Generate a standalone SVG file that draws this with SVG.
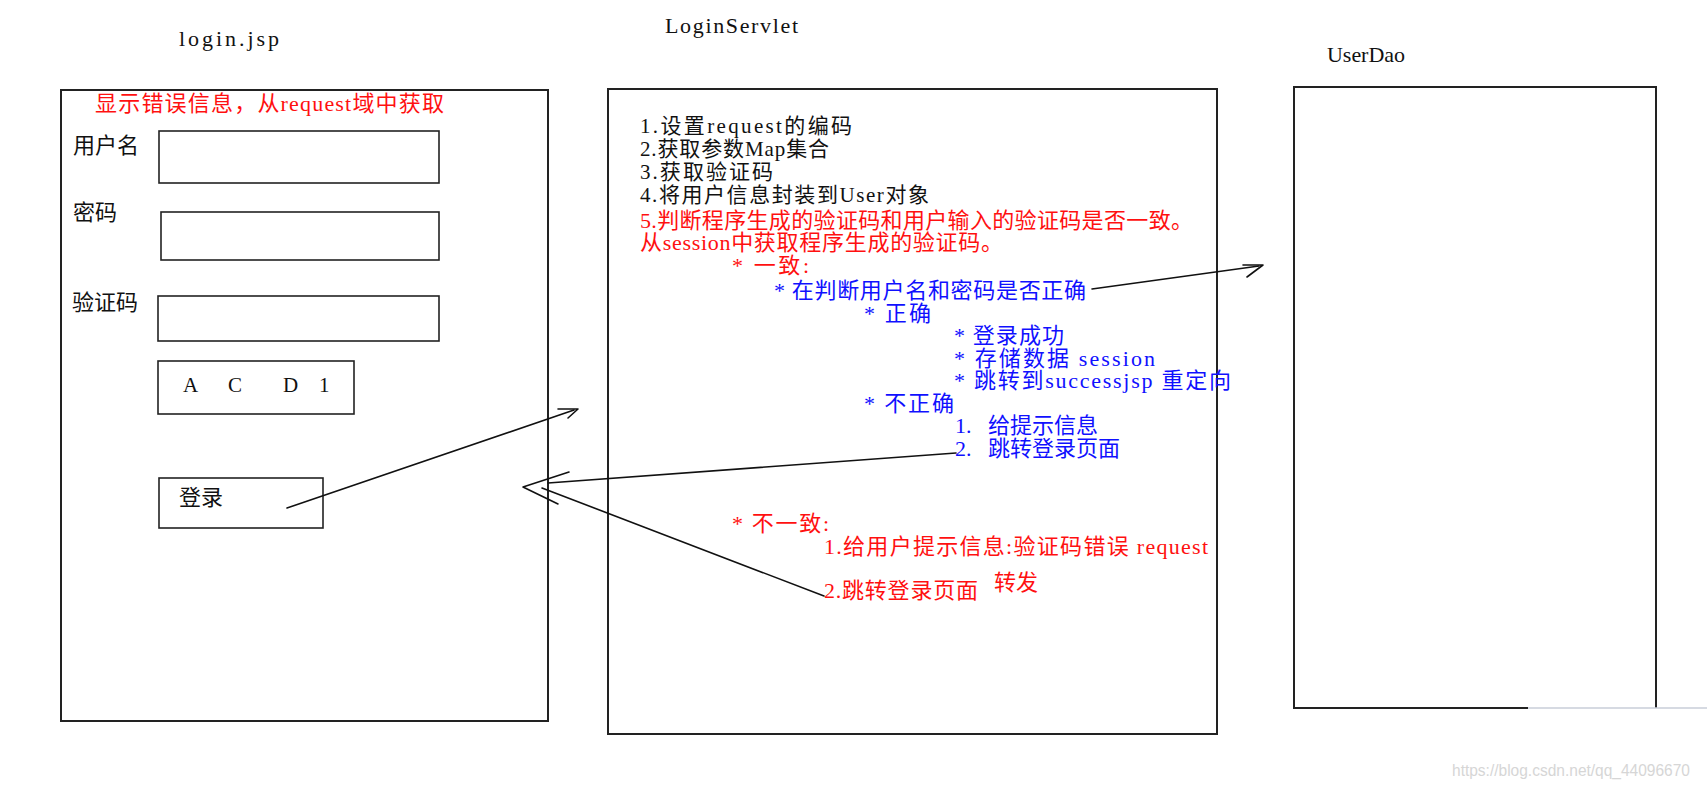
<svg xmlns="http://www.w3.org/2000/svg" width="1707" height="791" viewBox="0 0 1707 791">
<style>
  .box { fill: none; stroke: #222; stroke-width: 2; }
  .field { fill: none; stroke: #222; stroke-width: 1.6; }
  .t { font-family: "Liberation Serif", "Noto Sans CJK SC", serif; font-size: 22px; fill: #111; }
  .s { font-size: 21px; }
  .cjk { font-family: "Noto Sans CJK SC", sans-serif; font-size: 22px; fill: #111; }
  .red { fill: #ff1010; }
  .blue { fill: #1010ff; }
  .ln { fill: none; stroke: #111; stroke-width: 1.6; stroke-linecap: round; stroke-linejoin: round; }
  .wm { font-family: "Liberation Sans", "Noto Sans", sans-serif; font-size: 16px; fill: #d6d6d6; }
</style>
<rect width="1707" height="791" fill="#ffffff"/>

<g id="login-jsp">
  <text class="t" x="179" y="46" textLength="100" lengthAdjust="spacing">login.jsp</text>
  <rect class="box" x="61" y="90" width="487" height="631"/>
  <text class="t red" x="95" y="111" textLength="349" lengthAdjust="spacing">显示错误信息，从request域中获取</text>
  <text class="cjk" x="73" y="153">用户名</text>
  <rect class="field" x="159" y="131" width="280" height="52"/>
  <text class="cjk" x="73" y="220">密码</text>
  <rect class="field" x="161" y="212" width="278" height="48"/>
  <text class="cjk" x="72" y="310">验证码</text>
  <rect class="field" x="158" y="296" width="281" height="45"/>
  <rect class="field" x="158" y="361" width="196" height="53"/>
  <text class="t" x="183 228 283 319" y="392" style="font-size:21px">ACD1</text>
  <rect class="field" x="159" y="478" width="164" height="50"/>
  <text class="cjk" x="179" y="505">登录</text>
</g>

<g id="login-servlet">
  <text class="t" x="665" y="33" textLength="133" lengthAdjust="spacing">LoginServlet</text>
  <rect class="box" x="608" y="89" width="609" height="645"/>
  <text class="t s" x="640" y="133" textLength="212" lengthAdjust="spacing">1.设置request的编码</text>
  <text class="t s" x="640" y="156" textLength="189" lengthAdjust="spacing">2.获取参数Map集合</text>
  <text class="t s" x="640" y="179" textLength="133" lengthAdjust="spacing">3.获取验证码</text>
  <text class="t s" x="640" y="202" textLength="289" lengthAdjust="spacing">4.将用户信息封装到User对象</text>
  <text class="t red" x="640" y="228" textLength="553" lengthAdjust="spacing">5.判断程序生成的验证码和用户输入的验证码是否一致。</text>
  <text class="t red" x="640" y="250" textLength="363" lengthAdjust="spacing">从session中获取程序生成的验证码。</text>
  <text class="t red" x="732" y="273" textLength="77" lengthAdjust="spacing">* 一致:</text>
  <text class="t blue" x="774" y="298" textLength="312" lengthAdjust="spacing">* 在判断用户名和密码是否正确</text>
  <text class="t blue" x="864" y="321" textLength="67" lengthAdjust="spacing">* 正确</text>
  <text class="t blue" x="954" y="343" textLength="110" lengthAdjust="spacing">* 登录成功</text>
  <text class="t blue" x="954" y="366" textLength="201" lengthAdjust="spacing">* 存储数据 session</text>
  <text class="t blue" x="954" y="388" textLength="277" lengthAdjust="spacing">* 跳转到successjsp 重定向</text>
  <text class="t blue" x="864" y="411" textLength="90" lengthAdjust="spacing">* 不正确</text>
  <text class="t blue" x="955" y="433">1. <tspan x="988">给提示信息</tspan></text>
  <text class="t blue" x="955" y="456">2. <tspan x="988">跳转登录页面</tspan></text>
  <text class="t red" x="732" y="531" textLength="97" lengthAdjust="spacing">* 不一致:</text>
  <text class="t red" x="824" y="554" textLength="384" lengthAdjust="spacing">1.给用户提示信息:验证码错误 request</text>
  <text class="t red" x="824" y="598" textLength="154" lengthAdjust="spacing">2.跳转登录页面</text>
  <text class="cjk red" x="994" y="590">转发</text>
</g>

<g id="user-dao">
  <text class="t" x="1327" y="62" textLength="78" lengthAdjust="spacing">UserDao</text>
  <path class="box" d="M1528 708 H1294 V87 H1656 V708"/>
  <line x1="1528" y1="708" x2="1707" y2="708" stroke="#c8ced8" stroke-width="1.6"/>
</g>

<g id="connectors">
  <line class="ln" x1="287" y1="508" x2="574" y2="410"/>
  <polyline class="ln" points="558,409 578,409 568,418"/>
  <line class="ln" x1="956" y1="453" x2="548" y2="483"/>
  <line class="ln" x1="824" y1="596" x2="542" y2="488"/>
  <polyline class="ln" points="569,472 523,487 558,504"/>
  <line class="ln" x1="1092" y1="289" x2="1259" y2="266"/>
  <polyline class="ln" points="1243,265 1263,265 1247,277"/>
</g>

<text class="wm" x="1452" y="776" textLength="238" lengthAdjust="spacingAndGlyphs">https://blog.csdn.net/qq_44096670</text>
</svg>
